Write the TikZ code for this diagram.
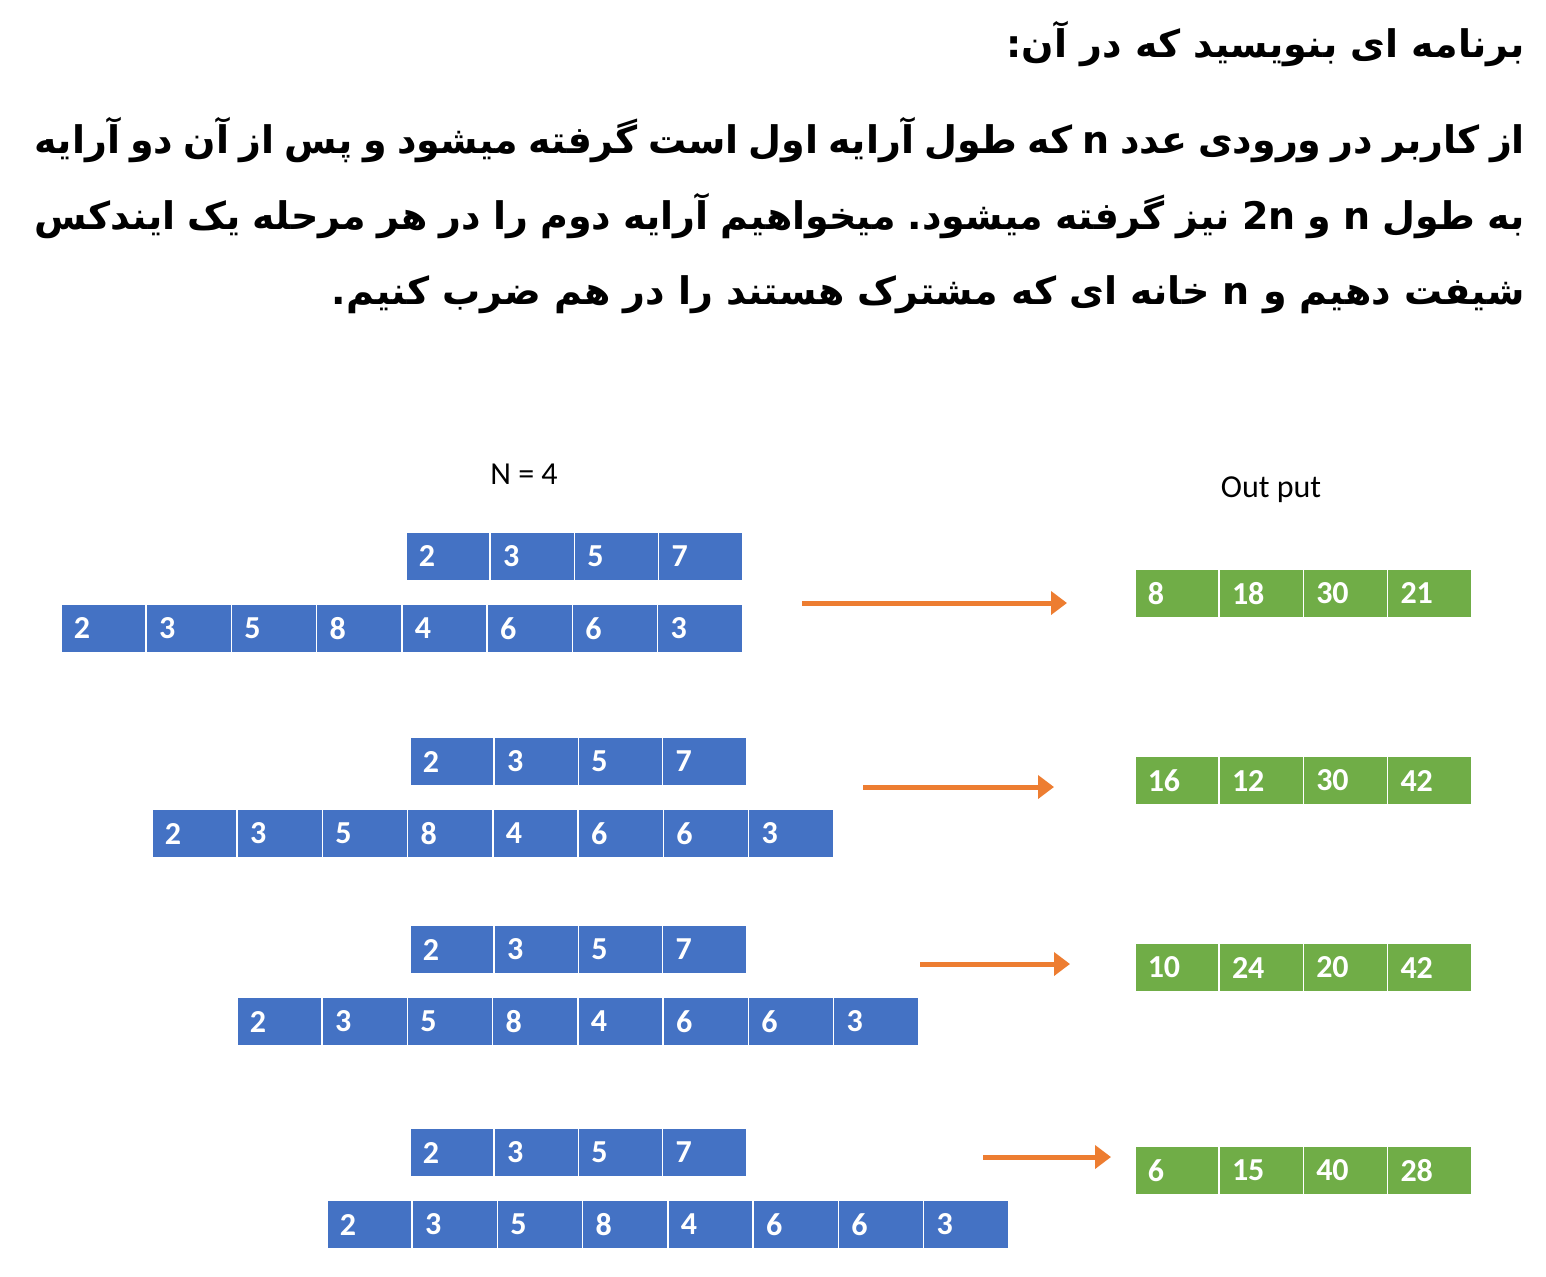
\documentclass[tikz,border=0pt]{standalone}
\usepackage{fontspec}
\usepackage{tikz}
\usetikzlibrary{arrows.meta}
\TeXXeTstate=1
\frenchspacing
\newfontfamily\arabicfont[Script=Arabic]{DejaVu Sans}
\newfontfamily\cellfont{Carlito}

\definecolor{cellblue}{HTML}{4472C4}
\definecolor{cellgreen}{HTML}{70AD47}
\definecolor{arroworange}{HTML}{ED7D31}

\begin{document}
\begin{tikzpicture}[x=1pt, y=-1pt,
    txt/.style={font=\arabicfont\bfseries\fontsize{38}{46}\selectfont, inner sep=0pt, anchor=base east},
    lbl/.style={font=\cellfont\fontsize{32}{32}\selectfont, inner sep=0pt},
    cell/.style={draw=white, line width=1.5pt, text=white, anchor=west, minimum height=49pt,
        inner xsep=13pt, align=left, font=\cellfont\bfseries\fontsize{32}{32}\selectfont},
    outarrow/.style={arroworange, line width=5pt, -{Triangle[length=16pt, width=23pt]}}]

    % --- PAGE ---
    \useasboundingbox (0,0) rectangle (1546,1276);

    % --- TASK TEXT ---
    \node[txt] (title) at (1525,58) {\beginR برنامه ای بنویسید که در آن:\endR};
    \node[txt] (line1) at (1525,154) {\makebox[1490pt][s]{\beginR از کاربر در ورودی عدد \beginL n\endL{} که طول آرایه اول است گرفته میشود و پس از آن دو آرایه\endR}};
    \node[txt] (line2) at (1525,229) {\makebox[1490pt][s]{\beginR به طول \beginL n\endL{} و \beginL 2n\endL{} نیز گرفته میشود. میخواهیم آرایه دوم را در هر مرحله یک ایندکس\endR}};
    \node[txt] (line3) at (1525,304) {\beginR شیفت دهیم و \beginL n\endL{} خانه ای که مشترک هستند را در هم ضرب کنیم.\endR};

    % --- LABELS ---
    \node[lbl] (nlabel) at (524,474) {N = 4};
    \node[lbl] (outlabel) at (1271,490) {Out put};

    % --- STEPS ---
    % step / top x / top y / bottom x / bottom y / output y / arrow start / arrow end / arrow y / products
    \foreach \s/\tx/\ty/\bx/\by/\oy/\ax/\axe/\ay/\outs in {
        1/405/556.5/60/628.5/593.5/802/1067/603/{8,18,30,21},
        2/409/761.5/151/833.5/780.5/863/1054/787/{16,12,30,42},
        3/409/949.5/236/1021.5/967.5/920/1070/964/{10,24,20,42},
        4/409/1152.5/326/1224.5/1170.5/983/1111/1157/{6,15,40,28}}{
        % first array (length n)
        \foreach \val [count=\i from 0] in {2,3,5,7}
            \node[cell, fill=cellblue, text width=58.25pt] (t\s-\i) at (\tx+\i*84.25, \ty) {\val};
        % second array (length 2n), shifted
        \foreach \val [count=\i from 0] in {2,3,5,8,4,6,6,3}
            \node[cell, fill=cellblue, text width=59.25pt] (b\s-\i) at (\bx+\i*85.25, \by) {\val};
        % products
        \foreach \val [count=\i from 0] in \outs
            \node[cell, fill=cellgreen, text width=58.25pt] (o\s-\i) at (1134+\i*84.25, \oy) {\val};
        % arrow
        \coordinate (as\s) at (\ax,\ay);
        \coordinate (ae\s) at (\axe,\ay);
        \draw[outarrow] (as\s) -- (ae\s);
    }
\end{tikzpicture}
\end{document}
